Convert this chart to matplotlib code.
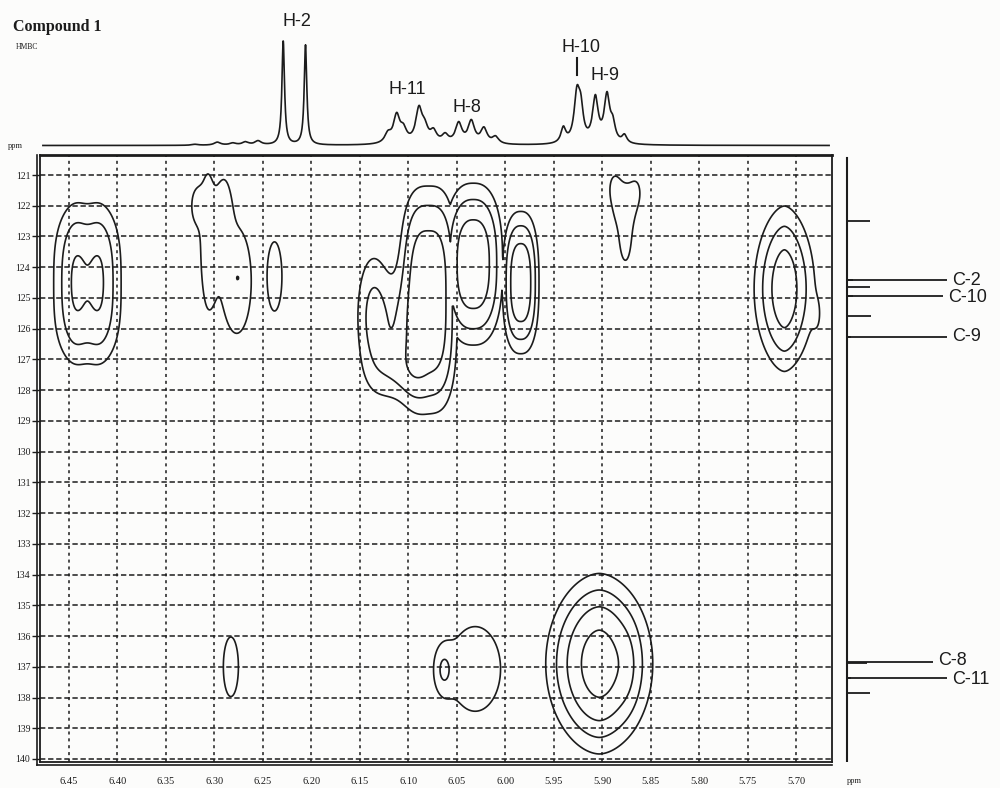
import numpy as np
import matplotlib
matplotlib.use('Agg')
from matplotlib import pyplot as plt

# --- 1H projection (top): peak positions (ppm), heights, widths
h_pos = [6.320, 6.297, 6.281, 6.268, 6.255, 6.229, 6.206,
         6.121, 6.112, 6.105, 6.089, 6.083, 6.074, 6.062, 6.048, 6.035, 6.022, 6.010,
         5.940, 5.926, 5.922, 5.907, 5.895, 5.889, 5.877]
h_height = [1, 3, 2, 3, 4, 104, 100,
            9, 27, 12, 33, 13, 11, 8, 20, 22, 15, 7,
            15, 47, 28, 44, 46, 16, 8]
h_width = [0.004, 0.004, 0.004, 0.004, 0.004, 0.0016, 0.0016,
           0.004, 0.004, 0.004, 0.004, 0.004, 0.004, 0.004, 0.004, 0.004,
           0.004, 0.004,
           0.003, 0.0035, 0.003, 0.0035, 0.0035, 0.003, 0.003]

h_labels = ['H-2', 'H-11', 'H-8', 'H-10', 'H-9']
h_label_x = [6.215, 6.101, 6.039, 5.922, 5.897]
h_label_y = [123.5, 55.5, 38.5, 98.5, 69.5]

# --- 13C projection (right)
c_pos = [122.50, 124.42, 124.64, 124.94, 125.59, 126.27, 136.87, 137.36, 137.85]
c_int = [23, 6, 23, 6, 24, 4, 20, 4, 23]

c_labels = ['C-2', 'C-10', 'C-9', 'C-8', 'C-11']
c_label_pos = [124.42, 124.94, 126.27, 136.85, 137.36]
c_label_len = [100, 96, 100, 86, 100]
c_label_ty = [124.42, 125.0, 126.27, 136.78, 137.43]

# --- HMBC cross peaks: group, 1H ppm, 13C ppm, amplitude, widths, shape exponents
cross_group = [0, 0, 0,
               1, 1, 1, 1, 1,
               2, 3,
               4, 4, 4, 4,
               5, 6,
               7, 7, 7, 7,
               8, 8,
               9, 9,
               10, 10]
cross_h = [6.431, 6.443, 6.419,
           6.307, 6.319, 6.290, 6.277, 6.276,
           6.238, 6.283,
           6.079, 6.136, 6.110, 6.112,
           6.033, 5.984,
           5.877, 5.888, 5.864, 5.876,
           5.712, 5.678,
           6.031, 6.064,
           5.903, 5.874]
cross_c = [124.55, 124.5, 124.5,
           123.0, 122.0, 122.1, 124.45, 124.35,
           124.3, 137.0,
           125.05, 125.6, 125.8, 127.4,
           123.9, 124.5,
           122.0, 121.3, 121.45, 123.3,
           124.7, 125.6,
           137.07, 137.1,
           136.9, 137.0]
cross_amp = [2.4, 1.5, 1.5,
             1.6, 1.3, 1.35, 1.65, 0.45,
             1.5, 1.6,
             5.0, 2.4, 1.2, 1.5,
             5.0, 5.0,
             1.45, 0.6, 0.5, 1.2,
             5.0, 0.55,
             1.6, 1.5,
             8.0, 0.6]
cross_wh = [0.0282, 0.009, 0.009,
            0.007, 0.005, 0.006, 0.015, 0.0015,
            0.0085, 0.008,
            0.020, 0.012, 0.012, 0.018,
            0.019, 0.0118,
            0.013, 0.005, 0.005, 0.005,
            0.0157, 0.004,
            0.027, 0.007,
            0.025, 0.007]
cross_wc = [1.99, 1.4, 1.4,
            2.0, 0.5, 0.9, 1.7, 0.08,
            1.25, 1.0,
            2.5, 1.4, 1.2, 0.7,
            1.65, 1.45,
            0.8, 0.4, 0.4, 0.6,
            1.5, 0.5,
            1.42, 0.55,
            1.44, 0.8]
cross_ph = [3, 2, 2,
            2, 2, 2, 2, 2,
            2, 2,
            3, 2, 2, 2,
            2.5, 2.5,
            2, 2, 2, 2,
            1.7, 2,
            2, 2,
            1.8, 2]
cross_pc = [3, 2, 2,
            2, 2, 2, 2, 2,
            2, 2,
            3, 2, 2, 2,
            2.5, 2.5,
            2, 2, 2, 2,
            2, 2,
            2, 2,
            2, 2]
levels = [1.0, 2.0, 3.5, 6.0]

x_ticks = [6.45, 6.40, 6.35, 6.30, 6.25, 6.20, 6.15, 6.10, 6.05, 6.00,
           5.95, 5.90, 5.85, 5.80, 5.75, 5.70]
y_ticks = list(range(121, 141))

xlim = (6.4799, 5.6629)
ylim = (140.098, 120.349)

serif = ['Liberation Serif', 'DejaVu Serif']
sans = ['Liberation Sans', 'DejaVu Sans']
ink = '#1c1c1c'

fig = plt.figure(figsize=(10, 7.88), dpi=100)
fig.patch.set_facecolor('#fcfcfb')

# main 2D panel
ax = fig.add_axes([0.040, 0.0330, 0.792, 0.7703])
ax.set_facecolor('#fcfcfb')
ax.set_xlim(*xlim)
ax.set_ylim(*ylim)
ax.set_xticks(x_ticks)
ax.set_xticklabels(['%.2f' % t for t in x_ticks])
ax.set_yticks(y_ticks)
ax.set_yticklabels([str(t) for t in y_ticks])
ax.tick_params(axis='y', direction='out', length=6, width=1, pad=1, labelsize=7,
               colors=ink)
ax.tick_params(axis='x', length=0, pad=10.5, labelsize=7.5, colors=ink)
for lab in ax.get_xticklabels() + ax.get_yticklabels():
    lab.set_family(serif)
for s in ax.spines.values():
    s.set_color(ink)
    s.set_linewidth(1.3)
ax.spines['top'].set_linewidth(2)

for t in x_ticks:
    ax.axvline(t, color=ink, lw=1.1, ls=(0, (2, 2.5)), zorder=1)
for t in y_ticks:
    ax.axhline(t, color=ink, lw=1.1, ls=(0, (3.5, 1.8)), zorder=1)

# double borders on left and bottom
ax.plot([-0.0038, -0.0038], [-0.005, 1], transform=ax.transAxes, clip_on=False,
        color=ink, lw=1.2)
ax.plot([-0.0038, 1], [-0.005, -0.005], transform=ax.transAxes, clip_on=False,
        color=ink, lw=1.2)

hh = np.linspace(xlim[1], xlim[0], 800)
cc = np.linspace(ylim[1], ylim[0], 800)
H, C = np.meshgrid(hh, cc)
groups = {}
for g, h0, c0, a, wh, wc, ph, pc in zip(cross_group, cross_h, cross_c, cross_amp,
                                         cross_wh, cross_wc, cross_ph, cross_pc):
    part = a * np.exp(-0.5 * (np.abs((H - h0) / wh) ** ph + np.abs((C - c0) / wc) ** pc))
    groups[g] = groups.get(g, 0) + part
Z = np.max(np.stack(list(groups.values())), axis=0)
ax.contour(H, C, Z, levels=levels, colors=ink, linewidths=1.2, zorder=3)

# top 1H spectrum
ax_h = fig.add_axes([0.040, 1 - 152 / 788, 0.792, 122 / 788])
ax_h.set_xlim(*xlim)
ax_h.set_ylim(-6.5, 115.5)
ax_h.axis('off')
xs = np.linspace(xlim[1] + 0.003, xlim[0] - 0.003, 4000)
spec = np.zeros_like(xs)
for p, hgt, w in zip(h_pos, h_height, h_width):
    spec += hgt * w ** 2 / ((xs - p) ** 2 + w ** 2)
ax_h.plot(xs, spec, color=ink, lw=1.2)
for lab, lx, ly in zip(h_labels, h_label_x, h_label_y):
    ax_h.text(lx, ly, lab, ha='center', va='center', fontsize=13, family=sans,
              color=ink, clip_on=False)
ax_h.plot([5.926, 5.926], [70.5, 87.5], color=ink, lw=1.5, clip_on=False)

# right 13C projection
ax_c = fig.add_axes([0.835, 0.0330, 0.165, 0.7703])
ax_c.set_xlim(-12, 153)
ax_c.set_ylim(*ylim)
ax_c.axis('off')
ax_c.plot([0, 0], [120.45, 140.05], color=ink, lw=1.5)
ax_c.hlines(c_pos, 0, c_int, color=ink, lw=1.3)
ax_c.hlines(c_label_pos, 0, c_label_len, color=ink, lw=1.3)
for lab, ll, ty in zip(c_labels, c_label_len, c_label_ty):
    ax_c.text(ll + 5, ty, lab, ha='left', va='center', fontsize=13, family=sans,
              color=ink)

fig.text(0.013, 1 - 27 / 788, 'Compound 1', ha='left', va='center', fontsize=11.5,
         fontweight='bold', family=serif, color=ink)
fig.text(0.016, 1 - 47 / 788, 'HMBC', ha='left', va='center', fontsize=5.5,
         family=serif, color=ink)
fig.text(0.008, 1 - 146 / 788, 'ppm', ha='left', va='center', fontsize=6,
         family=serif, color=ink)
fig.text(0.847, 1 - 781 / 788, 'ppm', ha='left', va='center', fontsize=6,
         family=serif, color=ink)

fig.savefig('out.png', dpi=100, facecolor=fig.get_facecolor())
